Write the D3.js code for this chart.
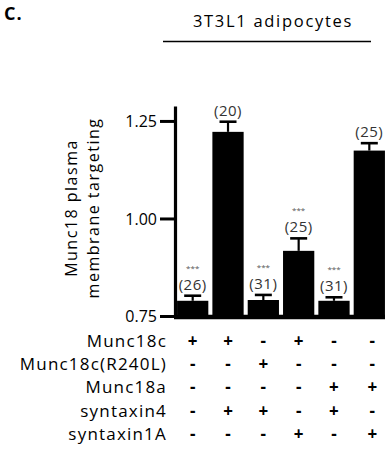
<!DOCTYPE html>
<html><head><meta charset="utf-8">
<script src="https://cdn.jsdelivr.net/npm/d3@7"></script>
<style>body{margin:0;background:#fff}svg{display:block}</style>
</head><body>
<script>
const conditions = ["c1","c2","c3","c4","c5","c6"];
const means = [0.789, 1.222, 0.791, 0.917, 0.789, 1.174];
const errors = [0.013, 0.026, 0.013, 0.032, 0.009, 0.019];
const nLabels = ["(26)","(20)","(31)","(25)","(31)","(25)"];
const sigLabels = ["***","","***","***","***",""];
const yTicks = [0.75, 1.00, 1.25];
const rowNames = ["Munc18c","Munc18c(R240L)","Munc18a","syntaxin4","syntaxin1A"];
const rowSigns = [
  ["+","+","-","+","-","-"],
  ["-","-","+","-","-","-"],
  ["-","-","-","-","+","+"],
  ["-","+","+","-","+","-"],
  ["-","-","-","+","-","+"]
];
const title = "3T3L1 adipocytes";
const panel = "C.";
const yTitle = ["Munc18 plasma","membrane targeting"];

const W=385,H=453;
const font = "'Open Sans', sans-serif";
const svg = d3.select("body").append("svg").attr("width",W).attr("height",H).style("font-family",font);

const x = d3.scaleBand().domain(conditions).range([176,386]).paddingInner(0.115).paddingOuter(0.03);
const y = d3.scaleLinear().domain([0.75,1.287]).range([316,106.5]);

// panel letter
svg.append("text").attr("x",4).attr("y",19.5).attr("font-size",18).attr("font-weight","bold")
  .attr("letter-spacing",1).text(panel);
// title
svg.append("text").attr("x",273).attr("y",27).attr("text-anchor","middle").attr("font-size",16.5)
  .attr("letter-spacing",1.7).text(title);
svg.append("line").attr("x1",163).attr("x2",371).attr("y1",41.5).attr("y2",41.5).attr("stroke","#000").attr("stroke-width",1.3);

// bars
svg.selectAll("rect.bar").data(conditions).enter().append("rect")
  .attr("x",d=>x(d)).attr("width",x.bandwidth())
  .attr("y",(d,i)=>y(means[i])).attr("height",(d,i)=>y(0.75)-y(means[i]))
  .attr("fill","#000");

// error bars
const eg = svg.append("g").attr("stroke","#000");
conditions.forEach((d,i)=>{
  const cx = x(d)+x.bandwidth()/2;
  const top = y(means[i]+errors[i]);
  eg.append("line").attr("x1",cx).attr("x2",cx).attr("y1",y(means[i])).attr("y2",top).attr("stroke-width",2.2);
  eg.append("line").attr("x1",cx-8.5).attr("x2",cx+8.5).attr("y1",top).attr("y2",top).attr("stroke-width",2.6);
  svg.append("text").attr("x",cx).attr("y",top-6).attr("text-anchor","middle")
    .attr("font-size",15).attr("letter-spacing",0.5).attr("fill","#333").text(nLabels[i]);
  if (sigLabels[i]) svg.append("text").attr("x",cx).attr("y",top-25).attr("text-anchor","middle")
    .attr("font-size",8).attr("fill","#555").text(sigLabels[i]);
});

// y axis
const yAxis = d3.axisLeft(y).tickValues(yTicks).tickFormat(d3.format(".2f")).tickSize(16).tickPadding(3);
const ga = svg.append("g").attr("transform","translate(176,0)").call(yAxis);
ga.select(".domain").remove();
ga.selectAll(".tick line").attr("stroke-width",3);
ga.selectAll(".tick text").attr("font-size",16).attr("font-family",font).attr("fill","#000").attr("dy","0.36em");
svg.append("line").attr("x1",175.5).attr("x2",175.5).attr("y1",106.5).attr("y2",318).attr("stroke","#000").attr("stroke-width",3.2);
// x axis
svg.append("line").attr("x1",174).attr("x2",385).attr("y1",317).attr("y2",317).attr("stroke","#000").attr("stroke-width",4.5);

// y title
const yt = svg.append("text").attr("transform","translate(77,208) rotate(-90)").attr("text-anchor","middle")
  .attr("font-size",16).attr("letter-spacing",1.5);
yTitle.forEach((t,i)=>yt.append("tspan").attr("x",0).attr("dy",i===0?0:22).text(t));

// table
const rowY = d3.scalePoint().domain(rowNames).range([346.5,440]);
rowNames.forEach((r,ri)=>{
  svg.append("text").attr("x",167).attr("y",rowY(r)).attr("text-anchor","end").attr("font-size",17)
    .attr("letter-spacing",1.2).text(r);
  conditions.forEach((c,ci)=>{
    svg.append("text").attr("x",x(c)+x.bandwidth()/2+ (ci===5?3:0)).attr("y",rowY(r)).attr("text-anchor","middle")
      .attr("font-size",17).attr("font-weight","bold").text(rowSigns[ri][ci]);
  });
});
</script>
</body></html>
